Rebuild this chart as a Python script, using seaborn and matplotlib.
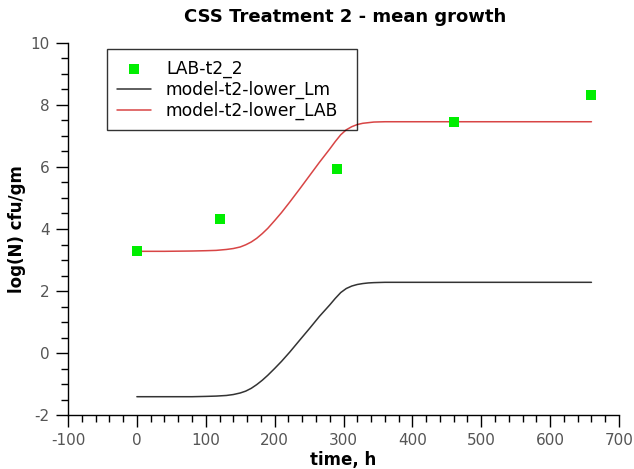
import matplotlib
matplotlib.use("Agg")
import matplotlib.pyplot as plt
import seaborn as sns
import pandas as pd
from matplotlib.ticker import MultipleLocator

# observed data
obs_time = [0, 120, 290, 460, 660]
obs_logN = [3.3, 4.33, 5.95, 7.45, 8.33]

# model curves
model_time = [0, 40, 80, 100, 115, 130, 140, 150, 158, 166, 174, 182, 190, 200, 210, 222,
              237, 251, 265, 280, 288, 296, 304, 312, 320, 328, 336, 344, 360, 400, 500, 600, 660]
model_lm = [-1.41, -1.41, -1.41, -1.40, -1.39, -1.37, -1.34, -1.29, -1.23, -1.14, -1.02, -0.88,
            -0.72, -0.50, -0.27, 0.03, 0.43, 0.80, 1.18, 1.55, 1.76, 1.95, 2.08, 2.16, 2.21,
            2.24, 2.26, 2.27, 2.28, 2.28, 2.28, 2.28, 2.28]
model_lab = [3.28, 3.28, 3.29, 3.30, 3.31, 3.34, 3.37, 3.42, 3.49, 3.58, 3.70, 3.85, 4.02,
             4.27, 4.53, 4.87, 5.31, 5.73, 6.15, 6.58, 6.82, 7.04, 7.20, 7.30, 7.37, 7.41,
             7.43, 7.45, 7.46, 7.46, 7.46, 7.46, 7.46]

labels = ["LAB-t2_2", "model-t2-lower_Lm", "model-t2-lower_LAB"]

sns.set_style("white")
plt.rcParams['font.family'] = ['DejaVu Sans']
plt.rcParams['axes.unicode_minus'] = False
plt.rcParams['text.color'] = 'black'
plt.rcParams['axes.labelcolor'] = 'black'

fig = plt.figure(figsize=(6.34, 4.69), dpi=100)
ax = fig.add_axes([68/634, 1-415/469, (619-68)/634, (415-43)/469])

df_obs = pd.DataFrame({"t": obs_time, "y": obs_logN})
df_mod = pd.DataFrame({"t": model_time, "lm": model_lm, "lab": model_lab})

sns.scatterplot(data=df_obs, x="t", y="y", ax=ax, marker="s", s=52, color="#00ee00",
                edgecolor="none", label=labels[0], zorder=3)
sns.lineplot(data=df_mod, x="t", y="lm", ax=ax, color="#333333", lw=1.1, label=labels[1])
sns.lineplot(data=df_mod, x="t", y="lab", ax=ax, color="#d84545", lw=1.1, label=labels[2])

ax.set_xlim(-100, 700)
ax.set_ylim(-2, 10)
ax.xaxis.set_major_locator(MultipleLocator(100))
ax.xaxis.set_minor_locator(MultipleLocator(20))
ax.yaxis.set_major_locator(MultipleLocator(2))
ax.yaxis.set_minor_locator(MultipleLocator(0.5))
ax.tick_params(axis="both", which="major", direction="out", length=8.3, width=1, pad=5,
               color="black", labelsize=11, labelcolor="#555555", bottom=True, left=True)
ax.tick_params(axis="both", which="minor", direction="out", length=5, width=1,
               color="black", bottom=True, left=True)
for s in ["top", "right"]:
    ax.spines[s].set_visible(False)
for s in ["left", "bottom"]:
    ax.spines[s].set_color("black")
    ax.spines[s].set_linewidth(1)

ax.set_xlabel("time, h", fontsize=12, fontweight="bold", labelpad=2, color="black")
ax.set_ylabel("log(N) cfu/gm", fontsize=12, fontweight="bold", labelpad=3, color="black")
fig.text(345/634, 1-17/469, "CSS Treatment 2 - mean growth", ha="center", va="center",
         fontsize=13, fontweight="bold", color="black")

x0 = (107 - 68) / 551
w = (357 - 107) / 551
y1 = 1 - (49 - 43) / 372
leg = ax.legend(loc="upper left", bbox_to_anchor=(x0, y1 - 0.3, w, 0.3), mode="expand",
                frameon=True, fancybox=False, shadow=False, fontsize=12.3,
                borderpad=0.6, handlelength=1.95, handletextpad=0.9, labelspacing=0.18,
                borderaxespad=0)
leg.get_frame().set_edgecolor("black")
leg.get_frame().set_facecolor("none")
leg.get_frame().set_linewidth(1)
for t in leg.get_texts():
    t.set_color("black")

fig.savefig("out.png", dpi=100)
